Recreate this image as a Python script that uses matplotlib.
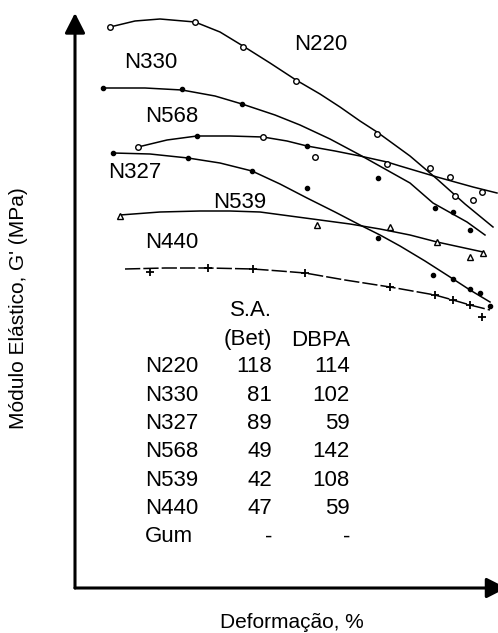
import matplotlib
matplotlib.use("Agg")
import matplotlib.pyplot as plt

plt.rcParams["font.family"] = ["Liberation Sans", "DejaVu Sans"]

# curves (arbitrary strain / modulus units)
n220_x = [35, 60, 85, 120, 145, 168, 195, 221, 245, 265, 285, 302, 335, 362, 390, 418]
n220_y = [561, 567, 569, 566, 556, 542, 525, 508, 494, 481, 467, 456, 432, 409, 384, 361]
n220_px = [35, 120, 168, 221, 302, 355, 375, 398]
n220_py = [561, 566, 541, 507, 454, 420, 411, 388]

n330_x = [28, 70, 107, 140, 167, 200, 225, 255, 285, 310, 335, 358, 392, 410]
n330_y = [500, 500, 498, 492, 484, 473, 463, 449, 433, 419, 405, 385, 366, 353]
n330_px = [28, 107, 167, 303, 360, 378, 395]
n330_py = [500, 499, 484, 410, 380, 376, 358]

n568_x = [63, 92, 122, 155, 188, 212, 232, 260, 285, 312, 325, 362, 398, 422]
n568_y = [441, 448, 452, 452, 451, 447, 442, 437, 432, 426, 422, 411, 401, 395]
n568_px = [63, 188, 240, 312, 407, 380]
n568_py = [441, 451, 431, 424, 396, 392]
n568_dx = [122, 232]
n568_dy = [452, 442]

n327_x = [38, 75, 113, 145, 177, 205, 232, 260, 285, 305, 325, 350, 375, 395, 415]
n327_y = [435, 434, 430, 425, 417, 404, 390, 376, 363, 353, 342, 327, 311, 298, 286]
n327_px = [38, 113, 177, 232, 303, 358, 378, 395, 405, 415]
n327_py = [435, 430, 417, 400, 350, 313, 309, 299, 295, 282]

n539_x = [45, 85, 125, 155, 185, 215, 245, 275, 305, 335, 362, 385, 408]
n539_y = [373, 376, 377, 377, 376, 372, 368, 364, 359, 353, 346, 341, 336]
n539_px = [45, 242, 315, 362, 408, 395]
n539_py = [372, 363, 361, 346, 335, 331]

n440_x = [50, 90, 133, 178, 205, 230, 270, 315, 360, 378, 395, 415]
n440_y = [319, 320, 320, 319, 317, 315, 308, 301, 293, 288, 283, 278]
n440_px = [75, 133, 178, 230, 315, 360, 378, 395, 407]
n440_py = [316, 320, 319, 315, 301, 293, 288, 283, 271]

labels = ["N220", "N330", "N568", "N327", "N539", "N440"]
label_x = [246, 76, 97, 60, 165, 97]
label_y = [543, 525, 472, 415, 385, 345]

tab_names = ["N220", "N330", "N327", "N568", "N539", "N440", "Gum"]
tab_sa = ["118", "81", "89", "49", "42", "47", "-"]
tab_dbpa = ["114", "102", "59", "142", "108", "59", "-"]

fig = plt.figure(figsize=(4.98, 6.33), dpi=100)
ax = fig.add_axes([75 / 498, 45 / 633, 423 / 498, 575 / 633])
ax.set_xlim(0, 423)
ax.set_ylim(0, 575)
for s in ax.spines.values():
    s.set_visible(False)
ax.set_xticks([])
ax.set_yticks([])

lw = 1.1
ax.plot(n220_x, n220_y, color="k", lw=lw)
ax.plot(n220_px, n220_py, "o", ms=4, mfc="white", mec="k", mew=1)

ax.plot(n330_x, n330_y, color="k", lw=lw)
ax.plot(n330_px, n330_py, "o", ms=3, color="k")

ax.plot(n568_x, n568_y, color="k", lw=lw)
ax.plot(n568_px, n568_py, "o", ms=4, mfc="white", mec="k", mew=1)
ax.plot(n568_dx, n568_dy, "o", ms=3, color="k")

ax.plot(n327_x, n327_y, color="k", lw=lw)
ax.plot(n327_px, n327_py, "o", ms=3, color="k")

ax.plot(n539_x, n539_y, color="k", lw=lw)
ax.plot(n539_px, n539_py, "^", ms=4.5, mfc="white", mec="k", mew=1)

ax.plot(n440_x, n440_y, color="k", lw=lw, dashes=(10, 2))
ax.plot(n440_px, n440_py, "+", ms=6, color="k", mew=1.3)

for t, x, y in zip(labels, label_x, label_y):
    ax.text(x, y, t, fontsize=16, ha="center", va="center")

# table of properties
ax.text(197, 277, "S.A.", fontsize=16, ha="right", va="center")
ax.text(197, 248, "(Bet)", fontsize=16, ha="right", va="center")
ax.text(275, 248, "DBPA", fontsize=16, ha="right", va="center")
for i in range(len(tab_names)):
    yy = 221 - i * 28.3
    ax.text(70, yy, tab_names[i], fontsize=16, ha="left", va="center")
    ax.text(197, yy, tab_sa[i], fontsize=16, ha="right", va="center")
    ax.text(275, yy, tab_dbpa[i], fontsize=16, ha="right", va="center")

# axes with arrow heads
arr = dict(arrowstyle="-|>,head_length=0.55,head_width=0.28", lw=2.2,
           color="k", mutation_scale=22, shrinkA=0, shrinkB=0)
ax.annotate("", xy=(0, 1.0), xytext=(0, 0), xycoords="axes fraction",
            arrowprops=arr, annotation_clip=False)
ax.annotate("", xy=(1.02, 0), xytext=(0, 0), xycoords="axes fraction",
            arrowprops=arr, annotation_clip=False)

fig.text(19 / 498, 1 - 308 / 633, "Módulo Elástico, G' (MPa)", rotation=90,
         fontsize=15, ha="center", va="center")
fig.text(292 / 498, 1 - 622 / 633, "Deformação, %", fontsize=15,
         ha="center", va="center")

fig.savefig("out.png", dpi=100)
